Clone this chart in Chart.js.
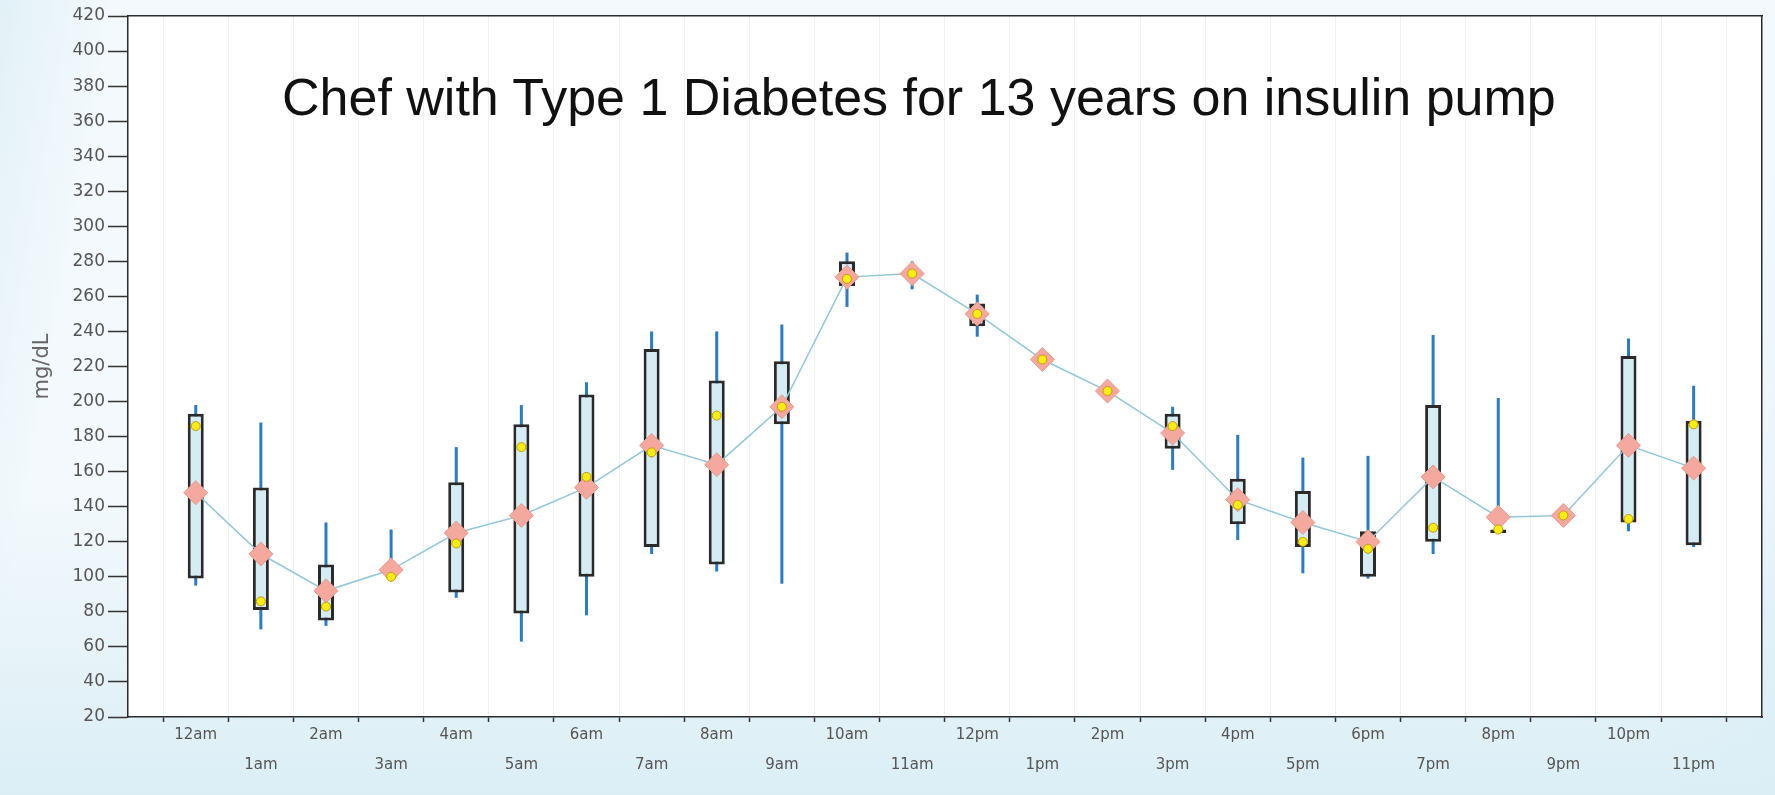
<!DOCTYPE html>
<html>
<head>
<meta charset="utf-8">
<title>Chef with Type 1 Diabetes - glucose by hour</title>
<script src="https://cdn.jsdelivr.net/npm/chart.js@4.4.0/dist/chart.umd.min.js"></script>
<style>
  html, body { margin: 0; padding: 0; }
  body {
    width: 1775px;
    height: 795px;
    overflow: hidden;
    position: relative;
    background: linear-gradient(100deg, #e2f1f7 0%, #f3f9fc 6%, #f3f9fc 94%, #e2f1f7 100%);
  }
  .band {
    position: absolute; left: 0; right: 0; bottom: 0; height: 300px;
    background: linear-gradient(180deg, rgba(214,235,244,0) 0%, #dbeef6 100%);
  }
  #chart { position: absolute; left: 0; top: 0; }
  .title {
    position: absolute;
    left: 282px;
    top: 71px;
    font: 52px/52px "Liberation Sans", Arial, sans-serif;
    color: #111;
    white-space: nowrap;
  }
</style>
</head>
<body>
<div class="band"></div>
<canvas id="chart" width="1775" height="795"></canvas>
<div class="title">Chef with Type 1 Diabetes for 13 years on insulin pump</div>
<script>
const hours = ['12am', '1am', '2am', '3am', '4am', '5am', '6am', '7am', '8am', '9am', '10am', '11am',
               '12pm', '1pm', '2pm', '3pm', '4pm', '5pm', '6pm', '7pm', '8pm', '9pm', '10pm', '11pm'];

// whiskers (lowest / highest reading), mg/dL
const whiskerLow  = [95, 70, 72, 98, 88, 63, 78, 113, 103, 96, 254, 264, 237, null, null, 161, 121, 102, 99, 113, 125, null, 126, 117];
const whiskerHigh = [198, 188, 131, 127, 174, 198, 211, 240, 240, 244, 285, 280, 261, null, null, 197, 181, 168, 169, 238, 202, null, 236, 209];

// boxes (25th / 75th percentile)
const boxLow  = [99, 81, 75, null, 91, 79, 100, 117, 107, 187, 266, null, 243, null, null, 173, 130, 117, 100, 120, 125, null, 131, 118];
const boxHigh = [193, 151, 107, null, 154, 187, 204, 230, 212, 223, 280, null, 256, null, null, 193, 156, 149, 126, 198, 127, null, 226, 189];

const meanValues   = [148, 113, 92, 104, 125, 135, 151, 175, 164, 197, 271, 273, 250, 224, 206, 182, 144, 131, 120, 157, 134, 135, 175, 162];
const medianValues = [186, 86, 83, 100, 119, 174, 157, 171, 192, 197, 270, 273, 250, 224, 206, 186, 141, 120, 116, 128, 127, 135, 133, 187];

const xMin = -1.04;
const xMax = 24.05;

const toRanges = (lo, hi) => lo.map((v, i) => v == null ? null : { x: i, y: [v, hi[i]] }).filter(p => p);
const toPoints = vals => vals.map((v, i) => ({ x: i, y: v }));

const plotBackground = {
    id: 'plotBackground',
    beforeDraw(chart) {
        const { ctx, chartArea } = chart;
        ctx.save();
        ctx.fillStyle = '#ffffff';
        ctx.fillRect(chartArea.left, chartArea.top, chartArea.right - chartArea.left, chartArea.bottom - chartArea.top);
        ctx.restore();
    }
};

const labelFont = { family: 'DejaVu Sans', size: 15, lineHeight: 2 };

new Chart(document.getElementById('chart').getContext('2d'), {
    type: 'bar',
    data: {
        datasets: [
            {
                type: 'bar',
                label: 'Range',
                data: toRanges(whiskerLow, whiskerHigh),
                backgroundColor: '#2b7bc4',
                borderWidth: 0,
                grouped: false,
                maxBarThickness: 3,
                order: 4
            },
            {
                type: 'bar',
                label: 'Middle half',
                data: toRanges(boxLow, boxHigh),
                backgroundColor: '#d4ecf2',
                borderColor: '#2a2a2a',
                borderWidth: 3,
                borderSkipped: false,
                grouped: false,
                maxBarThickness: 16,
                order: 3
            },
            {
                type: 'line',
                label: 'Mean',
                data: toPoints(meanValues),
                borderColor: '#92c6d8',
                borderWidth: 1.5,
                tension: 0,
                pointStyle: 'rectRot',
                pointRadius: 12,
                pointBackgroundColor: '#f5a89e',
                pointBorderColor: '#e79a90',
                pointBorderWidth: 1,
                order: 2
            },
            {
                type: 'line',
                label: 'Median',
                data: toPoints(medianValues),
                showLine: false,
                pointRadius: 4.5,
                pointBackgroundColor: '#f8ec12',
                pointBorderColor: '#c29b12',
                pointBorderWidth: 1,
                order: 1
            }
        ]
    },
    options: {
        responsive: false,
        animation: false,
        layout: { padding: 0 },
        plugins: {
            legend: { display: false },
            tooltip: { enabled: false }
        },
        scales: {
            x: {
                type: 'linear',
                position: 'bottom',
                min: xMin,
                max: xMax,
                bounds: 'data',
                offset: false,
                afterBuildTicks: axis => { axis.ticks = hours.map((h, i) => ({ value: i })); },
                afterFit: axis => { axis.height = 78; },
                grid: { offset: true, color: 'rgba(190,210,220,0.28)', tickColor: '#333', tickLength: 5, tickWidth: 1.5 },
                border: { color: '#2b2b2b', width: 1.5 },
                ticks: {
                    autoSkip: false,
                    maxRotation: 0,
                    padding: -2,
                    color: '#555',
                    font: labelFont,
                    callback: (value, index) => index % 2 === 0 ? hours[index] : ['', hours[index]]
                }
            },
            x2: {
                type: 'linear',
                position: 'top',
                afterFit: axis => { axis.height = 16; },
                grid: { drawOnChartArea: false, drawTicks: false },
                border: { color: '#2b2b2b', width: 1.5 },
                ticks: { display: false }
            },
            y: {
                type: 'linear',
                min: 20,
                max: 420,
                bounds: 'data',
                afterFit: axis => { axis.width = 128; },
                ticks: { stepSize: 20, padding: 3, color: '#555', font: { family: 'DejaVu Sans', size: 17 } },
                grid: { drawOnChartArea: false, tickLength: 20, tickColor: '#333', tickWidth: 1.5 },
                border: { color: '#2b2b2b', width: 1.5 },
                title: {
                    display: true,
                    text: 'mg/dL',
                    color: '#666',
                    font: { family: 'DejaVu Sans', size: 21 },
                    padding: { top: 30, bottom: 0 }
                }
            },
            y2: {
                type: 'linear',
                position: 'right',
                afterFit: axis => { axis.width = 13; },
                grid: { drawOnChartArea: false, drawTicks: false },
                border: { color: '#2b2b2b', width: 1.5 },
                ticks: { display: false }
            }
        }
    },
    plugins: [plotBackground]
});
</script>
</body>
</html>
